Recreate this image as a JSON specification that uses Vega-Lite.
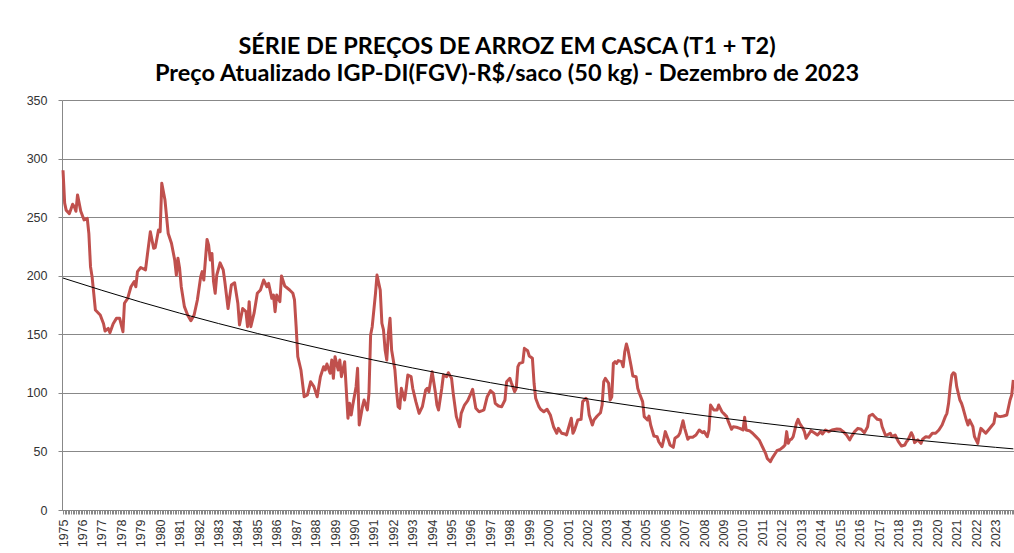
{
  "$schema": "https://vega.github.io/schema/vega-lite/v6.json",
  "width": 952,
  "height": 410,
  "autosize": {"type": "none"},
  "padding": {"left": 62, "top": 100, "right": 0, "bottom": 43},
  "background": "white",
  "title": {
    "text": ["SÉRIE DE PREÇOS DE ARROZ EM CASCA (T1 + T2)", "Preço Atualizado IGP-DI(FGV)-R$/saco (50 kg) - Dezembro de 2023"],
    "font": "Lato",
    "fontSize": 23.5,
    "fontWeight": "bold",
    "color": "#000000",
    "lineHeight": 27,
    "anchor": "middle",
    "dx": -31,
    "offset": 9
  },
  "config": {
    "view": {"stroke": null},
    "axis": {
      "labelFont": "Liberation Sans",
      "labelFontSize": 12.5,
      "labelColor": "#333333",
      "domainColor": "#888888",
      "tickColor": "#888888",
      "gridColor": "#888888",
      "title": null
    }
  },
  "layer": [
    {
      "data": {
        "values": [
          {"mes": "1975-01", "preco": 290}, {"mes": "1975-02", "preco": 262}, {"mes": "1975-03", "preco": 256},
          {"mes": "1975-05", "preco": 253}, {"mes": "1975-07", "preco": 261}, {"mes": "1975-08", "preco": 259},
          {"mes": "1975-09", "preco": 255}, {"mes": "1975-10", "preco": 269}, {"mes": "1975-12", "preco": 255},
          {"mes": "1976-02", "preco": 247.6}, {"mes": "1976-04", "preco": 249}, {"mes": "1976-05", "preco": 236},
          {"mes": "1976-06", "preco": 207.7}, {"mes": "1976-07", "preco": 199}, {"mes": "1976-08", "preco": 185},
          {"mes": "1976-09", "preco": 170.7}, {"mes": "1976-12", "preco": 166.5}, {"mes": "1977-02", "preco": 159},
          {"mes": "1977-03", "preco": 152.8}, {"mes": "1977-05", "preco": 155}, {"mes": "1977-06", "preco": 151.4},
          {"mes": "1977-08", "preco": 159}, {"mes": "1977-10", "preco": 163.6}, {"mes": "1977-12", "preco": 163.6},
          {"mes": "1978-02", "preco": 152.2}, {"mes": "1978-03", "preco": 176.5}, {"mes": "1978-05", "preco": 180.7},
          {"mes": "1978-07", "preco": 190.6}, {"mes": "1978-09", "preco": 195}, {"mes": "1978-10", "preco": 190.6},
          {"mes": "1978-11", "preco": 203.5}, {"mes": "1979-01", "preco": 207}, {"mes": "1979-04", "preco": 205},
          {"mes": "1979-05", "preco": 216}, {"mes": "1979-07", "preco": 237.6}, {"mes": "1979-09", "preco": 223.4},
          {"mes": "1979-10", "preco": 224}, {"mes": "1979-12", "preco": 239}, {"mes": "1980-01", "preco": 237.6},
          {"mes": "1980-02", "preco": 279}, {"mes": "1980-04", "preco": 264.6}, {"mes": "1980-06", "preco": 236},
          {"mes": "1980-08", "preco": 227.7}, {"mes": "1980-10", "preco": 213.4}, {"mes": "1980-11", "preco": 200.6},
          {"mes": "1980-12", "preco": 214.9}, {"mes": "1981-01", "preco": 206.3}, {"mes": "1981-02", "preco": 190.6},
          {"mes": "1981-04", "preco": 173.6}, {"mes": "1981-06", "preco": 166.5}, {"mes": "1981-08", "preco": 161.6},
          {"mes": "1981-10", "preco": 166.5}, {"mes": "1981-12", "preco": 179.3}, {"mes": "1982-02", "preco": 199},
          {"mes": "1982-03", "preco": 203.5}, {"mes": "1982-04", "preco": 196.3}, {"mes": "1982-06", "preco": 231},
          {"mes": "1982-07", "preco": 226}, {"mes": "1982-08", "preco": 213.4}, {"mes": "1982-09", "preco": 219},
          {"mes": "1982-10", "preco": 195}, {"mes": "1982-11", "preco": 185}, {"mes": "1982-12", "preco": 200.6},
          {"mes": "1983-02", "preco": 211}, {"mes": "1983-04", "preco": 205}, {"mes": "1983-05", "preco": 195},
          {"mes": "1983-07", "preco": 172}, {"mes": "1983-09", "preco": 192}, {"mes": "1983-11", "preco": 194},
          {"mes": "1984-01", "preco": 176.5}, {"mes": "1984-02", "preco": 158}, {"mes": "1984-04", "preco": 172},
          {"mes": "1984-06", "preco": 169.3}, {"mes": "1984-07", "preco": 156.5}, {"mes": "1984-08", "preco": 177.8},
          {"mes": "1984-09", "preco": 156.5}, {"mes": "1984-11", "preco": 168}, {"mes": "1985-01", "preco": 185},
          {"mes": "1985-03", "preco": 187.8}, {"mes": "1985-05", "preco": 196.3}, {"mes": "1985-07", "preco": 190.6},
          {"mes": "1985-08", "preco": 193.5}, {"mes": "1985-10", "preco": 180.7}, {"mes": "1985-11", "preco": 183.5},
          {"mes": "1985-12", "preco": 169.3}, {"mes": "1986-01", "preco": 183.5}, {"mes": "1986-03", "preco": 177.8},
          {"mes": "1986-04", "preco": 199.8}, {"mes": "1986-06", "preco": 191.2}, {"mes": "1986-09", "preco": 187.8},
          {"mes": "1986-11", "preco": 185}, {"mes": "1986-12", "preco": 179.3}, {"mes": "1987-01", "preco": 156.5},
          {"mes": "1987-02", "preco": 130.9}, {"mes": "1987-04", "preco": 119.5}, {"mes": "1987-06", "preco": 96.7},
          {"mes": "1987-08", "preco": 98.2}, {"mes": "1987-10", "preco": 109.5}, {"mes": "1987-12", "preco": 105.3},
          {"mes": "1988-02", "preco": 96.7}, {"mes": "1988-04", "preco": 113.8}, {"mes": "1988-06", "preco": 122.3},
          {"mes": "1988-07", "preco": 119.5}, {"mes": "1988-08", "preco": 124.6}, {"mes": "1988-10", "preco": 116.7},
          {"mes": "1988-11", "preco": 128}, {"mes": "1988-12", "preco": 112.4}, {"mes": "1989-01", "preco": 130.9},
          {"mes": "1989-03", "preco": 119.5}, {"mes": "1989-04", "preco": 128}, {"mes": "1989-05", "preco": 113.8},
          {"mes": "1989-07", "preco": 126.6}, {"mes": "1989-09", "preco": 78.3}, {"mes": "1989-10", "preco": 91.1},
          {"mes": "1989-11", "preco": 81.1}, {"mes": "1989-12", "preco": 89.6}, {"mes": "1990-02", "preco": 105.3},
          {"mes": "1990-03", "preco": 121}, {"mes": "1990-04", "preco": 72.6}, {"mes": "1990-06", "preco": 88.2},
          {"mes": "1990-07", "preco": 93.9}, {"mes": "1990-09", "preco": 85.4}, {"mes": "1990-10", "preco": 99.6},
          {"mes": "1990-11", "preco": 149.4}, {"mes": "1990-12", "preco": 156.5}, {"mes": "1991-02", "preco": 185},
          {"mes": "1991-03", "preco": 200.6}, {"mes": "1991-05", "preco": 187.8}, {"mes": "1991-06", "preco": 159.4},
          {"mes": "1991-07", "preco": 153.7}, {"mes": "1991-08", "preco": 136.6}, {"mes": "1991-09", "preco": 128},
          {"mes": "1991-10", "preco": 150.8}, {"mes": "1991-11", "preco": 163.6}, {"mes": "1991-12", "preco": 136.6},
          {"mes": "1992-02", "preco": 119.5}, {"mes": "1992-03", "preco": 102.4}, {"mes": "1992-04", "preco": 88.2},
          {"mes": "1992-05", "preco": 86.8}, {"mes": "1992-06", "preco": 103.9}, {"mes": "1992-08", "preco": 93.9},
          {"mes": "1992-09", "preco": 103.9}, {"mes": "1992-10", "preco": 115.2}, {"mes": "1992-12", "preco": 113.8},
          {"mes": "1993-01", "preco": 103.9}, {"mes": "1993-03", "preco": 92.5}, {"mes": "1993-05", "preco": 82.5},
          {"mes": "1993-07", "preco": 88.2}, {"mes": "1993-09", "preco": 102.4}, {"mes": "1993-10", "preco": 103.9},
          {"mes": "1993-11", "preco": 101}, {"mes": "1994-01", "preco": 118.1}, {"mes": "1994-03", "preco": 101},
          {"mes": "1994-04", "preco": 89.6}, {"mes": "1994-05", "preco": 85.4}, {"mes": "1994-07", "preco": 103.9},
          {"mes": "1994-08", "preco": 115.2}, {"mes": "1994-10", "preco": 113.8}, {"mes": "1994-11", "preco": 117.2},
          {"mes": "1995-01", "preco": 112.4}, {"mes": "1995-02", "preco": 99.6}, {"mes": "1995-04", "preco": 79.7},
          {"mes": "1995-06", "preco": 71.1}, {"mes": "1995-07", "preco": 82.5}, {"mes": "1995-09", "preco": 89.6},
          {"mes": "1995-11", "preco": 93.3}, {"mes": "1996-01", "preco": 99.6}, {"mes": "1996-02", "preco": 103},
          {"mes": "1996-04", "preco": 86.8}, {"mes": "1996-06", "preco": 83.9}, {"mes": "1996-08", "preco": 84.8},
          {"mes": "1996-09", "preco": 85.4}, {"mes": "1996-11", "preco": 96.7}, {"mes": "1997-01", "preco": 101.9},
          {"mes": "1997-03", "preco": 99.6}, {"mes": "1997-04", "preco": 91.1}, {"mes": "1997-06", "preco": 88.8},
          {"mes": "1997-08", "preco": 88.2}, {"mes": "1997-10", "preco": 93.9}, {"mes": "1997-11", "preco": 109.5},
          {"mes": "1998-01", "preco": 112.4}, {"mes": "1998-02", "preco": 108.2}, {"mes": "1998-04", "preco": 101},
          {"mes": "1998-05", "preco": 103.9}, {"mes": "1998-06", "preco": 122.3}, {"mes": "1998-07", "preco": 125.2},
          {"mes": "1998-09", "preco": 126}, {"mes": "1998-10", "preco": 138}, {"mes": "1998-12", "preco": 136},
          {"mes": "1999-01", "preco": 131.5}, {"mes": "1999-03", "preco": 129.5}, {"mes": "1999-04", "preco": 108.2},
          {"mes": "1999-05", "preco": 95.4}, {"mes": "1999-07", "preco": 88.2}, {"mes": "1999-08", "preco": 86},
          {"mes": "1999-10", "preco": 83.9}, {"mes": "1999-12", "preco": 86}, {"mes": "2000-02", "preco": 81.1},
          {"mes": "2000-04", "preco": 71.1}, {"mes": "2000-06", "preco": 65.5}, {"mes": "2000-07", "preco": 69.7},
          {"mes": "2000-09", "preco": 65.5}, {"mes": "2000-11", "preco": 64.9}, {"mes": "2000-12", "preco": 64},
          {"mes": "2001-03", "preco": 78.3}, {"mes": "2001-04", "preco": 65.5}, {"mes": "2001-05", "preco": 68.3},
          {"mes": "2001-07", "preco": 76.8}, {"mes": "2001-09", "preco": 77.4}, {"mes": "2001-10", "preco": 92.5},
          {"mes": "2001-12", "preco": 95.4}, {"mes": "2002-01", "preco": 92.5}, {"mes": "2002-02", "preco": 81.1},
          {"mes": "2002-04", "preco": 72.6}, {"mes": "2002-05", "preco": 76.8}, {"mes": "2002-07", "preco": 80.2},
          {"mes": "2002-09", "preco": 83}, {"mes": "2002-10", "preco": 89.6}, {"mes": "2002-11", "preco": 109.5},
          {"mes": "2002-12", "preco": 112.4}, {"mes": "2003-02", "preco": 108.2}, {"mes": "2003-03", "preco": 93.9},
          {"mes": "2003-04", "preco": 96.7}, {"mes": "2003-05", "preco": 125.2}, {"mes": "2003-06", "preco": 126.6},
          {"mes": "2003-07", "preco": 125.2}, {"mes": "2003-08", "preco": 127.5}, {"mes": "2003-10", "preco": 126.6},
          {"mes": "2003-11", "preco": 122.3}, {"mes": "2003-12", "preco": 135.1}, {"mes": "2004-01", "preco": 141.7},
          {"mes": "2004-02", "preco": 136.6}, {"mes": "2004-04", "preco": 122.3}, {"mes": "2004-05", "preco": 114.4},
          {"mes": "2004-07", "preco": 113.8}, {"mes": "2004-08", "preco": 103.9}, {"mes": "2004-09", "preco": 99.6},
          {"mes": "2004-11", "preco": 92.5}, {"mes": "2004-12", "preco": 79.7}, {"mes": "2005-02", "preco": 76.8},
          {"mes": "2005-03", "preco": 80.2}, {"mes": "2005-04", "preco": 72.6}, {"mes": "2005-06", "preco": 63.2},
          {"mes": "2005-08", "preco": 62.6}, {"mes": "2005-09", "preco": 58.3}, {"mes": "2005-11", "preco": 54},
          {"mes": "2005-12", "preco": 59.8}, {"mes": "2006-01", "preco": 66.9}, {"mes": "2006-03", "preco": 59.8},
          {"mes": "2006-04", "preco": 55.5}, {"mes": "2006-06", "preco": 53.5}, {"mes": "2006-07", "preco": 61.2},
          {"mes": "2006-09", "preco": 63.2}, {"mes": "2006-10", "preco": 65.5}, {"mes": "2006-12", "preco": 76.2},
          {"mes": "2007-01", "preco": 69.7}, {"mes": "2007-03", "preco": 60.4}, {"mes": "2007-04", "preco": 62.1},
          {"mes": "2007-06", "preco": 62.1}, {"mes": "2007-08", "preco": 64}, {"mes": "2007-10", "preco": 68.3},
          {"mes": "2007-12", "preco": 66}, {"mes": "2008-01", "preco": 66.9}, {"mes": "2008-03", "preco": 62.6},
          {"mes": "2008-04", "preco": 68.3}, {"mes": "2008-05", "preco": 89.6}, {"mes": "2008-07", "preco": 85.4},
          {"mes": "2008-09", "preco": 85.4}, {"mes": "2008-10", "preco": 89.6}, {"mes": "2008-12", "preco": 83.9},
          {"mes": "2009-01", "preco": 82.5}, {"mes": "2009-03", "preco": 79.7}, {"mes": "2009-04", "preco": 75.4},
          {"mes": "2009-06", "preco": 68.9}, {"mes": "2009-07", "preco": 71.1}, {"mes": "2009-09", "preco": 70.6},
          {"mes": "2009-11", "preco": 69.7}, {"mes": "2010-01", "preco": 68.3}, {"mes": "2010-02", "preco": 79.1},
          {"mes": "2010-03", "preco": 68.3}, {"mes": "2010-05", "preco": 67.7}, {"mes": "2010-07", "preco": 65.5},
          {"mes": "2010-09", "preco": 62.6}, {"mes": "2010-11", "preco": 59.8}, {"mes": "2011-01", "preco": 54},
          {"mes": "2011-03", "preco": 48.4}, {"mes": "2011-04", "preco": 44.1}, {"mes": "2011-06", "preco": 41.2},
          {"mes": "2011-07", "preco": 44.1}, {"mes": "2011-09", "preco": 48.4}, {"mes": "2011-10", "preco": 50.6},
          {"mes": "2011-12", "preco": 51.8}, {"mes": "2012-02", "preco": 54}, {"mes": "2012-03", "preco": 55.5},
          {"mes": "2012-04", "preco": 66.9}, {"mes": "2012-05", "preco": 56.9}, {"mes": "2012-06", "preco": 59.8},
          {"mes": "2012-07", "preco": 60.4}, {"mes": "2012-08", "preco": 62.6}, {"mes": "2012-10", "preco": 74},
          {"mes": "2012-11", "preco": 77.4}, {"mes": "2012-12", "preco": 74}, {"mes": "2013-02", "preco": 69.7},
          {"mes": "2013-03", "preco": 66.9}, {"mes": "2013-04", "preco": 61.2}, {"mes": "2013-06", "preco": 65.5},
          {"mes": "2013-07", "preco": 67.7}, {"mes": "2013-09", "preco": 66}, {"mes": "2013-11", "preco": 64},
          {"mes": "2014-01", "preco": 66.9}, {"mes": "2014-02", "preco": 64.9}, {"mes": "2014-04", "preco": 68.3},
          {"mes": "2014-06", "preco": 66.9}, {"mes": "2014-08", "preco": 68.3}, {"mes": "2014-11", "preco": 69.1},
          {"mes": "2015-01", "preco": 68.9}, {"mes": "2015-03", "preco": 66.9}, {"mes": "2015-05", "preco": 64},
          {"mes": "2015-07", "preco": 59.8}, {"mes": "2015-08", "preco": 62.6}, {"mes": "2015-10", "preco": 66.9},
          {"mes": "2015-12", "preco": 69.7}, {"mes": "2016-02", "preco": 68.9}, {"mes": "2016-04", "preco": 66},
          {"mes": "2016-06", "preco": 71.1}, {"mes": "2016-07", "preco": 80.2}, {"mes": "2016-09", "preco": 81.7},
          {"mes": "2016-10", "preco": 80.2}, {"mes": "2016-12", "preco": 77.4}, {"mes": "2017-02", "preco": 76.8},
          {"mes": "2017-03", "preco": 71.1}, {"mes": "2017-05", "preco": 64}, {"mes": "2017-06", "preco": 64},
          {"mes": "2017-08", "preco": 65.5}, {"mes": "2017-09", "preco": 62.6}, {"mes": "2017-11", "preco": 64},
          {"mes": "2018-01", "preco": 58.3}, {"mes": "2018-03", "preco": 54.6}, {"mes": "2018-05", "preco": 55.5},
          {"mes": "2018-06", "preco": 58.3}, {"mes": "2018-07", "preco": 59.8}, {"mes": "2018-09", "preco": 66},
          {"mes": "2018-10", "preco": 63.2}, {"mes": "2018-11", "preco": 57.5}, {"mes": "2019-01", "preco": 59.8},
          {"mes": "2019-03", "preco": 56.9}, {"mes": "2019-04", "preco": 60.4}, {"mes": "2019-06", "preco": 62.6},
          {"mes": "2019-08", "preco": 62.1}, {"mes": "2019-10", "preco": 65.5}, {"mes": "2019-12", "preco": 65.5},
          {"mes": "2020-02", "preco": 68.3}, {"mes": "2020-04", "preco": 72.6}, {"mes": "2020-06", "preco": 79.7},
          {"mes": "2020-07", "preco": 82.5}, {"mes": "2020-08", "preco": 91.1}, {"mes": "2020-09", "preco": 105},
          {"mes": "2020-10", "preco": 115.2}, {"mes": "2020-11", "preco": 117.2}, {"mes": "2020-12", "preco": 116.1},
          {"mes": "2021-01", "preco": 105.3}, {"mes": "2021-03", "preco": 93.9}, {"mes": "2021-04", "preco": 91.1},
          {"mes": "2021-05", "preco": 86.8}, {"mes": "2021-07", "preco": 76.8}, {"mes": "2021-08", "preco": 72.6},
          {"mes": "2021-09", "preco": 76.8}, {"mes": "2021-11", "preco": 71.1}, {"mes": "2021-12", "preco": 62.6},
          {"mes": "2022-02", "preco": 56.9}, {"mes": "2022-03", "preco": 64}, {"mes": "2022-04", "preco": 69.7},
          {"mes": "2022-06", "preco": 66.9}, {"mes": "2022-07", "preco": 65.5}, {"mes": "2022-09", "preco": 68.9},
          {"mes": "2022-10", "preco": 70.6}, {"mes": "2022-12", "preco": 74}, {"mes": "2023-01", "preco": 82.5},
          {"mes": "2023-02", "preco": 80.2}, {"mes": "2023-04", "preco": 79.7}, {"mes": "2023-06", "preco": 80.2},
          {"mes": "2023-08", "preco": 81.1}, {"mes": "2023-10", "preco": 93.9}, {"mes": "2023-11", "preco": 98.2},
          {"mes": "2023-12", "preco": 111}
        ]
      },
      "mark": {"type": "line", "color": "#C0504D", "strokeWidth": 3, "strokeJoin": "round"},
      "encoding": {
        "x": {
          "field": "mes",
          "type": "temporal",
          "scale": {
            "type": "utc",
            "domain": [
              {"year": 1974, "month": 12, "date": 13, "utc": true},
              {"year": 2023, "month": 12, "date": 14, "utc": true}
            ]
          },
          "axis": {
            "tickCount": {"interval": "month", "step": 1},
            "labelExpr": "utcmonth(datum.value) == 0 ? utcFormat(datum.value, '%Y') : ''",
            "labelAngle": 270,
            "labelOverlap": false,
            "labelFlush": false,
            "labelBound": false,
            "labelPadding": 5,
            "tickSize": 4,
            "grid": false
          }
        },
        "y": {
          "field": "preco",
          "type": "quantitative",
          "scale": {"domain": [0, 350]},
          "axis": {
            "values": [0, 50, 100, 150, 200, 250, 300, 350],
            "grid": true,
            "tickSize": 4,
            "labelPadding": 11
          }
        }
      }
    },
    {
      "data": {
        "values": [
          {"mes": "1975-01", "tendencia": 198.0}, {"mes": "1979-01", "tendencia": 177.5},
          {"mes": "1983-01", "tendencia": 159.2}, {"mes": "1987-01", "tendencia": 142.7},
          {"mes": "1991-01", "tendencia": 128.0}, {"mes": "1995-01", "tendencia": 114.8},
          {"mes": "1999-01", "tendencia": 102.9}, {"mes": "2003-01", "tendencia": 92.3},
          {"mes": "2007-01", "tendencia": 82.7}, {"mes": "2011-01", "tendencia": 74.2},
          {"mes": "2015-01", "tendencia": 66.5}, {"mes": "2019-01", "tendencia": 59.6},
          {"mes": "2023-01", "tendencia": 53.5}, {"mes": "2023-12", "tendencia": 52.2}
        ]
      },
      "mark": {"type": "line", "color": "#000000", "strokeWidth": 1, "interpolate": "monotone"},
      "encoding": {
        "x": {"field": "mes", "type": "temporal"},
        "y": {"field": "tendencia", "type": "quantitative"}
      }
    }
  ]
}
